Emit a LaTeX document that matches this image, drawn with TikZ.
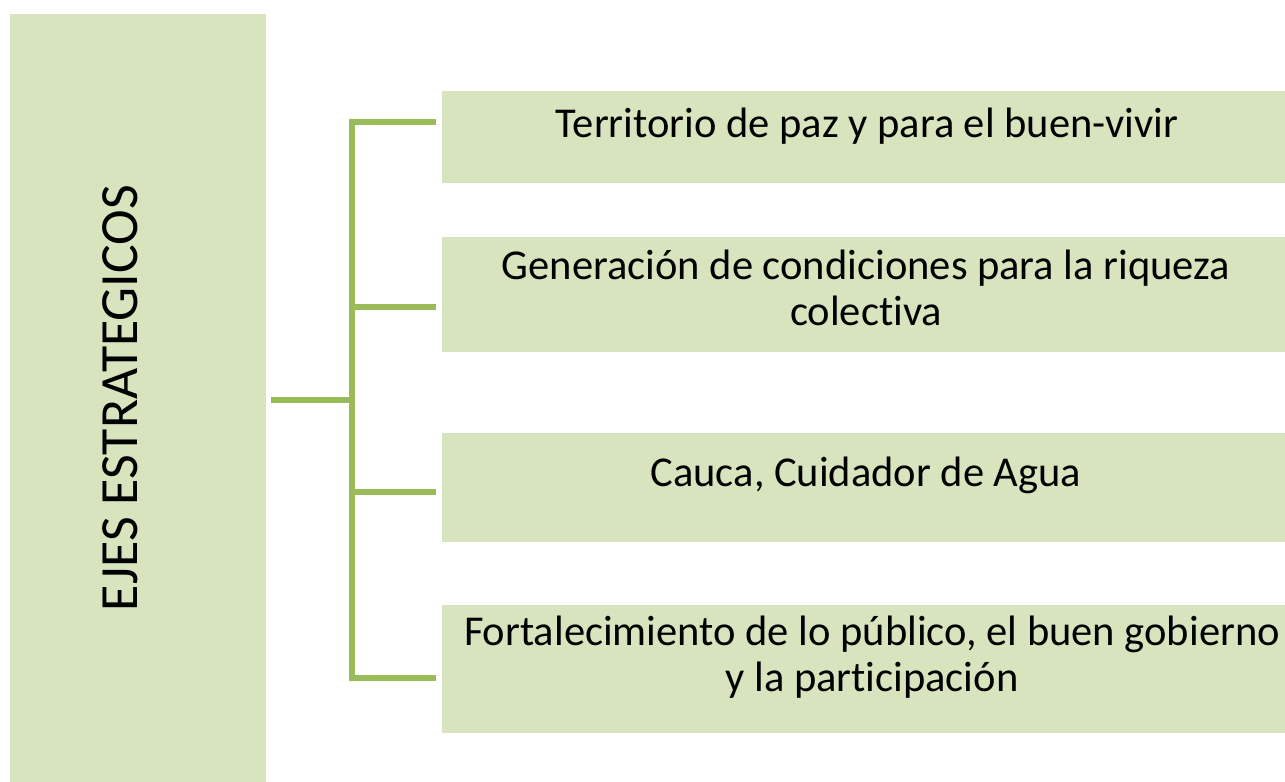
\documentclass[tikz,border=0pt]{standalone}
\usepackage{fontspec}
\setmainfont[Ligatures={NoCommon,NoRare}]{Carlito}
\definecolor{ejefill}{HTML}{D8E4BD}
\definecolor{ejeline}{HTML}{9BBB59}
\tikzset{
  ejebox/.style={fill=ejefill, draw=none, inner sep=0pt, anchor=north west},
  ejetext/.style={align=center, font=\fontsize{12.1}{13.1}\selectfont},
  ejeedge/.style={draw=ejeline, line width=1.5pt}
}
\begin{document}
\begin{tikzpicture}
\useasboundingbox (0,0) rectangle (12.85,-7.81);
\def\bx{4.41}
\def\bw{8.44}
\node[ejebox, minimum width=2.56cm, minimum height=7.68cm] (ejes) at (0.09,-0.13) {};
\node[rotate=90, font=\fontsize{15.3}{18}\selectfont] (ejest) at (1.20,-3.98) {EJES ESTRATEGICOS};
\node[ejebox, minimum width=\bw cm, minimum height=0.92cm] (b1) at (\bx,-0.90) {};
\node[ejebox, minimum width=\bw cm, minimum height=1.15cm] (b2) at (\bx,-2.36) {};
\node[ejebox, minimum width=\bw cm, minimum height=1.09cm] (b3) at (\bx,-4.32) {};
\node[ejebox, minimum width=\bw cm, minimum height=1.28cm] (b4) at (\bx,-6.04) {};
\node[ejetext] (t1) at (8.67,-1.26) {Territorio de paz y para el buen-vivir};
\node[ejetext] (t2) at (8.66,-2.88) {Generación de condiciones para la riqueza\\colectiva};
\node[ejetext] (t3) at (8.66,-4.75) {Cauca, Cuidador de Agua};
\node[ejetext] (t4) at (8.72,-6.57) {Fortalecimiento de lo público, el buen gobierno\\y la participación};

% edges
\coordinate (hub) at (3.52,-4.00);
\coordinate (e1) at (4.36,-1.22);
\coordinate (e2) at (4.36,-3.07);
\coordinate (e3) at (4.36,-4.92);
\coordinate (e4) at (4.36,-6.78);
\draw[ejeedge] ([xshift=0.05cm]ejes.east |- hub) -- (hub);
\draw[ejeedge] (e1) -| (hub |- e4) -- (e4);
\draw[ejeedge] (hub |- e2) -- (e2);
\draw[ejeedge] (hub |- e3) -- (e3);
\end{tikzpicture}
\end{document}
